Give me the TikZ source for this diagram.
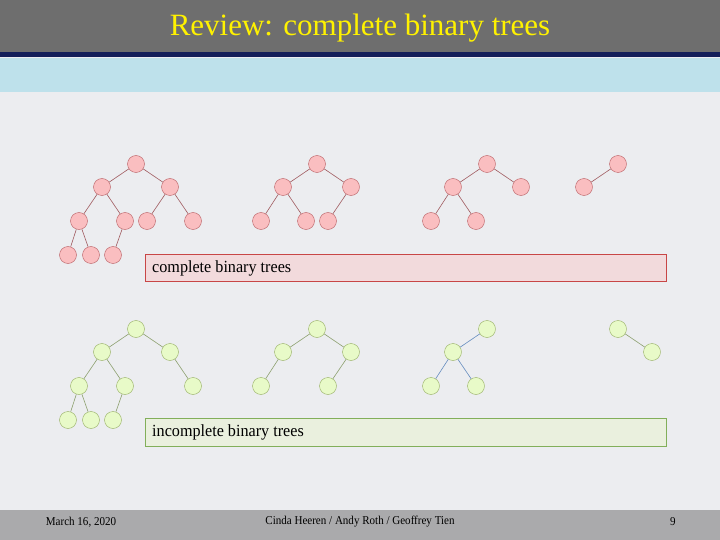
\documentclass[tikz,border=0pt]{standalone}
\usepackage{fontspec}
\setmainfont{Liberation Serif}
\definecolor{pnd}{RGB}{185,95,100}
\definecolor{pnf}{RGB}{250,190,192}
\definecolor{gnd}{RGB}{150,175,100}
\definecolor{gnf}{RGB}{232,250,200}
\definecolor{pec}{RGB}{160,90,95}
\definecolor{gec}{RGB}{140,160,110}
\definecolor{bec}{RGB}{100,140,190}
\definecolor{bgc}{RGB}{236,237,240}
\definecolor{hdr}{RGB}{110,110,110}
\definecolor{navy}{RGB}{20,30,90}
\definecolor{band}{RGB}{190,225,235}
\definecolor{ftr}{RGB}{170,170,172}
\definecolor{pbd}{RGB}{200,70,70}
\definecolor{pbf}{RGB}{242,218,220}
\definecolor{gbd}{RGB}{130,175,90}
\definecolor{gbf}{RGB}{234,240,222}
\begin{document}
\begin{tikzpicture}[x=1pt,y=-1pt,
 pn/.style={circle,minimum size=17pt,inner sep=0pt,draw=pnd,fill=pnf},
 gn/.style={circle,minimum size=17pt,inner sep=0pt,draw=gnd,fill=gnf},
 pe/.style={draw=pec,line width=0.6pt},
 ge/.style={draw=gec,line width=0.6pt},
 be/.style={draw=bec,line width=0.6pt},
 ft/.style={font=\fontsize{12pt}{14pt}\selectfont,xscale=0.92},
 lbl/.style={anchor=west,font=\fontsize{17pt}{19pt}\selectfont,inner sep=0pt,xscale=0.95}]
\useasboundingbox (0,0) rectangle (720,540);
\fill[bgc] (0,0) rectangle (720,540);
\fill[hdr] (0,0) rectangle (720,52);
\fill[navy] (0,52) rectangle (720,57);
\fill[band] (0,58) rectangle (720,92);
\node (title) at (360,28) {\fontsize{31pt}{34pt}\selectfont\color{yellow}Review: complete binary trees};
\fill[ftr] (0,510) rectangle (720,540);
\node[ft] (date) at (81,522) {March 16, 2020};
\node[ft] (auth) at (360,522) {Cinda Heeren / Andy Roth / Geoffrey Tien};
\node[ft] (pg) at (673,522) {9};
% pink trees
\foreach \n/\x/\y in {a/136/164,b/102/187,c/170/187,d/79/221,e/125/221,f/147/221,g/193/221,h/68/255,i/91/255,j/113/255,
 k/317/164,l/283/187,m/351/187,n/261/221,o/306/221,p/328/221,
 q/487/164,r/453/187,s/521/187,t/431/221,u/476/221,v/618/164,w/584/187}
  \node[pn] (p\n) at (\x,\y) {};
\foreach \u/\v in {a/b,a/c,b/d,b/e,c/f,c/g,d/h,d/i,e/j,k/l,k/m,l/n,l/o,m/p,q/r,q/s,r/t,r/u,v/w}
  \draw[pe] (p\u) -- (p\v);
% green trees
\foreach \n/\x/\y in {a/136/329,b/102/352,c/170/352,d/79/386,e/125/386,g/193/386,h/68/420,i/91/420,j/113/420,
 k/317/329,l/283/352,m/351/352,n/261/386,p/328/386,
 q/487/329,r/453/352,t/431/386,u/476/386,v/618/329,w/652/352}
  \node[gn] (g\n) at (\x,\y) {};
\foreach \u/\v in {a/b,a/c,b/d,b/e,c/g,d/h,d/i,e/j,k/l,k/m,l/n,m/p,v/w}
  \draw[ge] (g\u) -- (g\v);
\foreach \u/\v in {q/r,r/t,r/u}
  \draw[be] (g\u) -- (g\v);
% boxes
\draw[draw=pbd,fill=pbf] (145,254) rectangle (666,281);
\node[lbl] (cl) at (152,268) {complete binary trees};
\draw[draw=gbd,fill=gbf] (145,418) rectangle (666,446);
\node[lbl] (il) at (152,432) {incomplete binary trees};
\end{tikzpicture}
\end{document}
